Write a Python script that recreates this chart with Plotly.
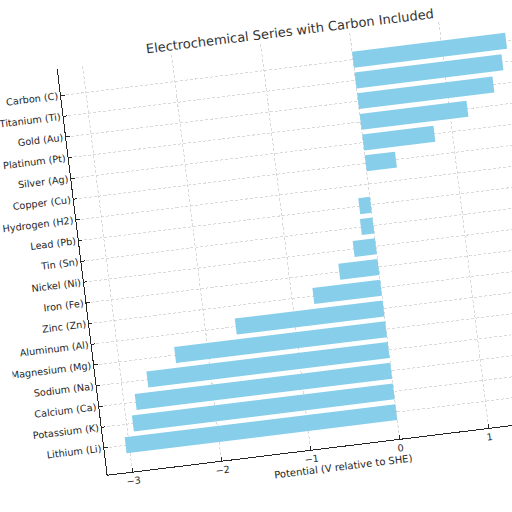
import plotly.graph_objects as go

# rows from bottom (Lithium) to top (Carbon)
elements = [
    "Lithium (Li)", "Potassium (K)", "Calcium (Ca)", "Sodium (Na)",
    "Magnesium (Mg)", "Aluminum (Al)", "Zinc (Zn)", "Iron (Fe)",
    "Nickel (Ni)", "Tin (Sn)", "Lead (Pb)", "Hydrogen (H2)",
    "Copper (Cu)", "Silver (Ag)", "Platinum (Pt)", "Gold (Au)",
    "Titanium (Ti)", "Carbon (C)",
]
potentials = [
    -3.04, -2.93, -2.87, -2.71,
    -2.37, -1.66, -0.76, -0.44,
    -0.25, -0.14, -0.13, 0.00,
    0.34, 0.80, 1.20, 1.52,
    1.65, 1.72,
]
x_ticks = [-3, -2, -1, 0, 1]

font = "DejaVu Sans"
ink = "#262626"

fig = go.Figure(go.Bar(
    x=potentials,
    y=elements,
    orientation="h",
    width=0.77,
    marker=dict(color="skyblue", line=dict(width=0)),
))

fig.update_layout(
    width=580, height=512,
    margin=dict(l=82, r=28, t=46, b=57),
    paper_bgcolor="white", plot_bgcolor="white",
    showlegend=False,
    font=dict(family=font, size=9.7, color=ink),
    title=dict(
        text="Electrochemical Series with Carbon Included",
        x=0.5, xref="paper", xanchor="center",
        y=1 - 37 / 512, yref="container", yanchor="middle",
        font=dict(family=font, size=13, color="#333333"),
    ),
)

fig.update_xaxes(
    range=[-3.28, 1.96],
    tickvals=x_ticks,
    ticks="inside", ticklen=3.5, tickwidth=0.8, tickcolor=ink,
    showline=True, linecolor=ink, linewidth=1,
    showgrid=True, gridcolor="#dadada", gridwidth=0.7, griddash="3px,2px",
    zeroline=False,
    title=dict(text="Potential (V relative to SHE)", standoff=3,
               font=dict(family=font, size=10, color=ink)),
    automargin=False,
)
fig.update_yaxes(
    type="category",
    categoryorder="array", categoryarray=elements,
    range=[-1.29, 18.29],
    ticks="inside", ticklen=3.5, tickwidth=0.8, tickcolor=ink,
    showline=True, linecolor=ink, linewidth=1,
    showgrid=True, gridcolor="#dadada", gridwidth=0.7, griddash="3px,2px",
    zeroline=False,
    automargin=False,
)

# the reference picture is the whole chart tilted about 7 degrees
tilt = """
document.documentElement.style.overflow = 'hidden';
document.body.style.margin = '0';
document.body.style.overflow = 'hidden';
var gd = document.getElementById('{plot_id}');
gd.style.transformOrigin = '256px 256px';
gd.style.transform = 'rotate(-7deg)';
"""

fig.write_html("out.html", post_script=tilt)
